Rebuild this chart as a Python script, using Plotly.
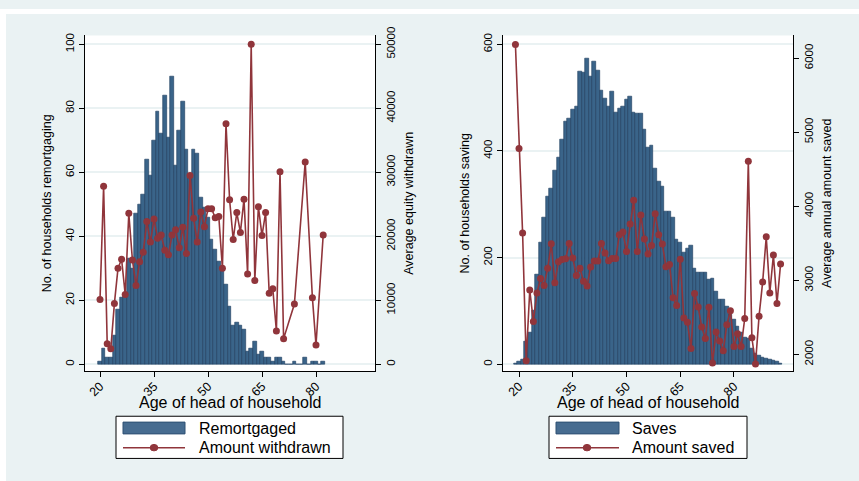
import plotly.graph_objects as go

# ---------------- data ----------------
# Left panel: remortgaging
remort_age = list(range(20, 83))
remort_count = [1, 5, 2, 2, 9, 17, 21, 22, 33, 30,
                47, 50, 53, 64, 59, 70, 79, 72, 84, 71,
                90, 62, 73, 82, 67, 59, 67, 66, 52, 49,
                46, 39, 36, 32, 30, 25, 18, 12, 13, 12,
                11, 4, 5, 7, 3, 4, 2, 2, 1, 2,
                2, 1, 0, 0, 1, 0, 0, 2, 0, 1,
                1, 0, 1]

withdrawn_age = list(range(20, 72)) + [74, 77, 79, 80, 82]
withdrawn_amt = [10100, 27800, 3200, 2400, 9500, 15000, 16400, 10900, 23600, 16300,
                 12300, 16000, 17500, 22300, 19100, 22700, 19700, 20200, 17800, 17100,
                 20200, 21000, 18200, 21400, 17300, 29500, 22800, 19100, 23800, 21500,
                 24300, 24300, 22900, 23100, 15000, 37600, 25700, 19500, 23700, 20600,
                 25800, 14100, 50000, 13100, 24600, 20100, 23700, 11100, 11800, 5200,
                 30100, 4000, 9400, 31600, 10400, 3000, 20200]

# Right panel: saving
saves_age = list(range(19, 94))
saves_count = [1, 5, 8, 43, 59, 100, 169, 228, 275, 315,
               329, 363, 387, 422, 456, 460, 477, 483, 550, 547,
               574, 540, 568, 551, 513, 499, 484, 512, 473, 479,
               483, 496, 502, 472, 471, 471, 440, 407, 411, 367,
               343, 334, 286, 287, 275, 234, 229, 209, 217, 223,
               180, 172, 172, 172, 158, 160, 136, 121, 121, 109,
               94, 83, 71, 59, 51, 48, 29, 21, 16, 13,
               10, 8, 7, 5, 2]

saved_age = list(range(19, 94))
saved_amt = [6185, 4780, 3638, 1916, 2870, 2446, 2830, 3025, 2931, 3162,
             3495, 2967, 3250, 3280, 3290, 3497, 3303, 3064, 3164, 2987,
             2925, 3180, 3260, 3260, 3497, 3368, 3266, 3296, 3294, 3616,
             3652, 3388, 3762, 4080, 3390, 3881, 3559, 3355, 3470, 3900,
             3616, 3492, 3185, 3215, 2764, 2660, 3285, 2490, 2433, 2080,
             2821, 2640, 2369, 2214, 2636, 1883, 2302, 2181, 2049, 2401,
             2590, 2106, 2278, 2106, 2485, 4607, 2225, 1872, 2516, 2976,
             3589, 2830, 3342, 2689, 3219]

age_ticks = [20, 35, 50, 65, 80]
left_ticks = [0, 20, 40, 60, 80, 100]
equity_ticks = [0, 10000, 20000, 30000, 40000, 50000]
saving_ticks = [0, 200, 400, 600]
saved_ticks = [2000, 3000, 4000, 5000, 6000]

# ---------------- style ----------------
W, H = 859, 481
BG = "#EAF2F3"
BAR_FILL = "#3A6489"
BAR_LINE = "#1B3B5C"
RED = "#90353B"
FONT = "Liberation Sans, Arial, sans-serif"

def px_x(p):
    return p / W

def px_y(p):
    return 1 - p / H

fig = go.Figure()

fig.add_trace(go.Bar(x=remort_age, y=remort_count, width=1.0,
                     marker=dict(color=BAR_FILL, line=dict(color=BAR_LINE, width=0.6)),
                     xaxis="x", yaxis="y", name="Remortgaged", showlegend=False))
fig.add_trace(go.Scatter(x=withdrawn_age, y=withdrawn_amt, mode="lines+markers",
                         line=dict(color=RED, width=1.6),
                         marker=dict(color=RED, size=7),
                         xaxis="x", yaxis="y2", name="Amount withdrawn", showlegend=False))
fig.add_trace(go.Bar(x=saves_age, y=saves_count, width=1.0,
                     marker=dict(color=BAR_FILL, line=dict(color=BAR_LINE, width=0.6)),
                     xaxis="x2", yaxis="y3", name="Saves", showlegend=False))
fig.add_trace(go.Scatter(x=saved_age, y=saved_amt, mode="lines+markers",
                         line=dict(color=RED, width=1.6),
                         marker=dict(color=RED, size=7),
                         xaxis="x2", yaxis="y4", name="Amount saved", showlegend=False))

ydom = [px_y(369), px_y(27)]
tickfont = dict(family=FONT, size=12.5, color="black")
ytickfont = dict(family=FONT, size=11.5, color="black")
ytitlefont = dict(family=FONT, size=12.5, color="black")
xtitlefont = dict(family=FONT, size=16, color="black")

common_x = dict(tickvals=age_ticks, tickangle=-45, ticks="outside", ticklen=5,
                tickcolor="black", showline=True, linecolor="black", linewidth=1,
                showgrid=False, zeroline=False, tickfont=tickfont, ticklabelstandoff=-3)
common_y = dict(tickangle=-90, ticks="outside", ticklen=5, tickcolor="black",
                showline=True, linecolor="black", linewidth=1, zeroline=False,
                tickfont=ytickfont, tickformat="d")

fig.update_layout(
    width=W, height=H,
    margin=dict(l=0, r=0, t=0, b=0),
    paper_bgcolor=BG, plot_bgcolor="white",
    bargap=0, showlegend=False,
    font=dict(family=FONT, color="black"),
    xaxis=dict(domain=[px_x(85), px_x(375)], range=[15.83, 96.39], anchor="y", **common_x),
    yaxis=dict(domain=ydom, range=[-2.15, 102.76], tickvals=left_ticks, anchor="x",
               showgrid=True, gridcolor=BG, gridwidth=1.5,
               title=dict(text="No. of households remortgaging", font=ytitlefont, standoff=10),
               **common_y),
    yaxis2=dict(overlaying="y", side="right", anchor="x", range=[-1074, 51380],
                tickvals=equity_ticks, showgrid=False,
                title=dict(text="Average equity withdrawn", font=ytitlefont, standoff=8),
                **common_y),
    xaxis2=dict(domain=[px_x(503), px_x(793)], range=[15.53, 96.47], anchor="y3", **common_x),
    yaxis3=dict(domain=ydom, range=[-12.9, 616.6], tickvals=saving_ticks, anchor="x2",
                showgrid=True, gridcolor=BG, gridwidth=1.5,
                title=dict(text="No. of households saving", font=ytitlefont, standoff=10),
                **common_y),
    yaxis4=dict(overlaying="y3", side="right", anchor="x2", range=[1775, 6305],
                tickvals=saved_ticks, showgrid=False,
                title=dict(text="Average annual amount saved", font=ytitlefont, standoff=8),
                **common_y),
)

shapes = []
# white outer border strips (top and left)
shapes.append(dict(type="rect", xref="paper", yref="paper", x0=0, x1=px_x(6), y0=0, y1=1,
                   fillcolor="white", line=dict(width=0), layer="below"))
shapes.append(dict(type="rect", xref="paper", yref="paper", x0=0, x1=1, y0=px_y(5), y1=1,
                   fillcolor="white", line=dict(width=0), layer="below"))

annotations = []

# x-axis titles
for cx in (230, 648):
    annotations.append(dict(xref="paper", yref="paper", x=px_x(cx), y=px_y(401),
                            text="Age of head of household", showarrow=False,
                            xanchor="center", yanchor="middle", font=xtitlefont))

def add_legend(x0, x1, sw0, sw1, mx, tx, label_bar, label_line):
    y0, y1 = 415, 458
    shapes.append(dict(type="rect", xref="paper", yref="paper",
                       x0=px_x(x0), x1=px_x(x1), y0=px_y(y1), y1=px_y(y0),
                       fillcolor="white", line=dict(color="black", width=1)))
    shapes.append(dict(type="rect", xref="paper", yref="paper",
                       x0=px_x(sw0), x1=px_x(sw1), y0=px_y(433), y1=px_y(421),
                       fillcolor="#476C90", line=dict(color="#2E5073", width=1)))
    shapes.append(dict(type="line", xref="paper", yref="paper",
                       x0=px_x(sw0), x1=px_x(sw1), y0=px_y(447), y1=px_y(447),
                       line=dict(color=RED, width=1.5)))
    shapes.append(dict(type="circle", xref="paper", yref="paper",
                       x0=px_x(mx - 3.8), x1=px_x(mx + 3.8), y0=px_y(450.3), y1=px_y(443.7),
                       fillcolor=RED, line=dict(color=RED, width=1)))
    annotations.append(dict(xref="paper", yref="paper", x=px_x(tx), y=px_y(427.5),
                            text=label_bar, showarrow=False, xanchor="left", yanchor="middle",
                            font=dict(family=FONT, size=16, color="black")))
    annotations.append(dict(xref="paper", yref="paper", x=px_x(tx), y=px_y(447),
                            text=label_line, showarrow=False, xanchor="left", yanchor="middle",
                            font=dict(family=FONT, size=16, color="black")))

add_legend(116, 343, 123, 185, 154, 197, "Remortgaged", "Amount withdrawn")
add_legend(549, 747, 556, 619, 587, 630, "Saves", "Amount saved")

fig.update_layout(shapes=shapes, annotations=annotations)

fig.write_html("out.html")
